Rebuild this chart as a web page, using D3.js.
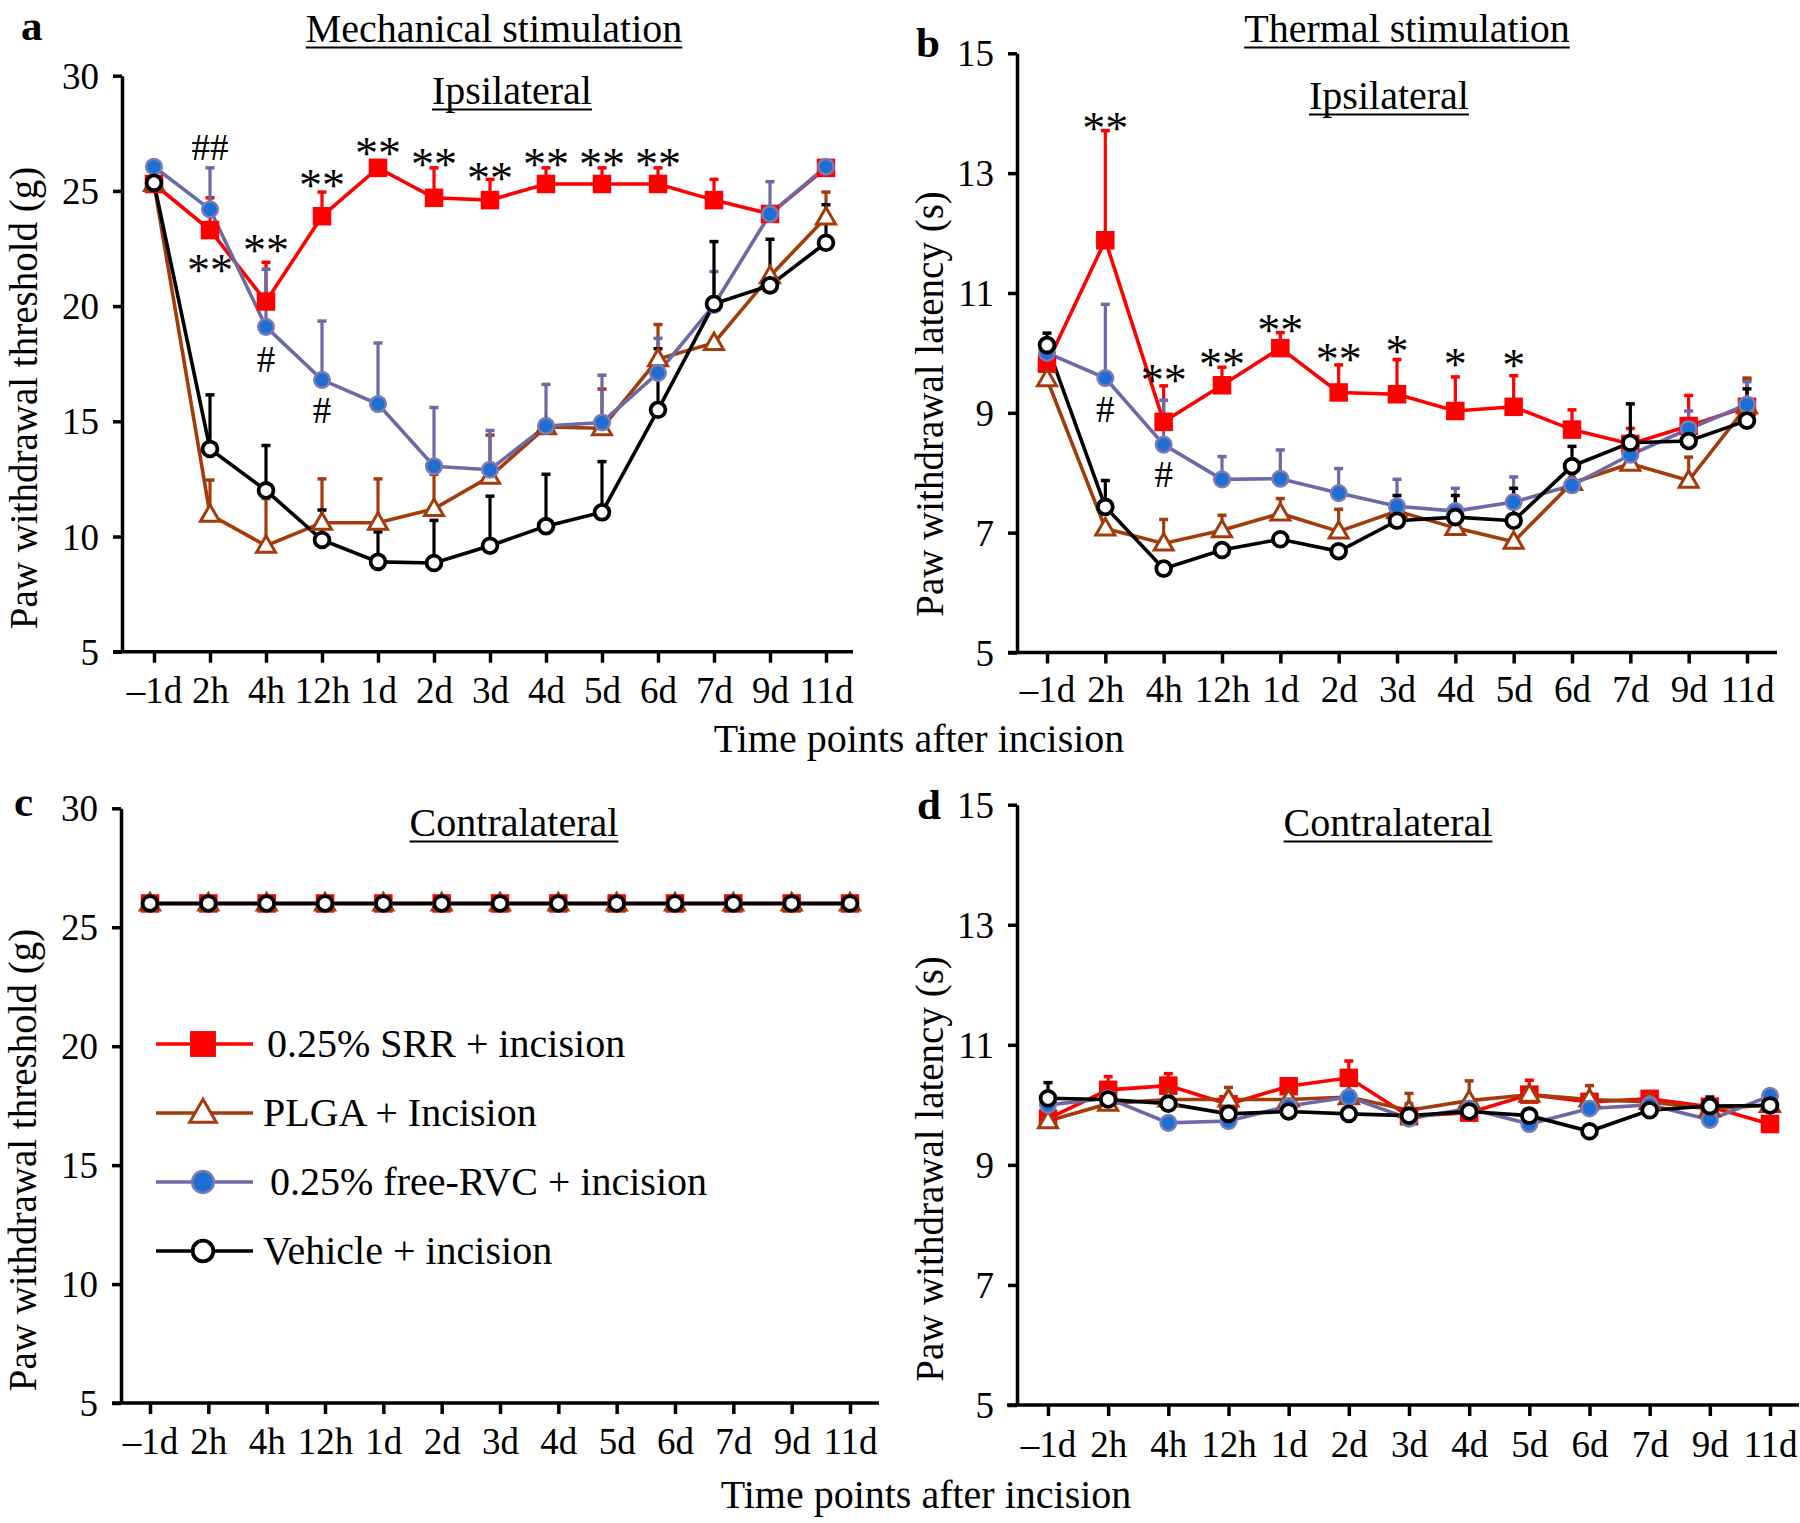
<!DOCTYPE html>
<html><head><meta charset="utf-8">
<script src="https://cdn.jsdelivr.net/npm/d3@7"></script>
<style>
body{margin:0;background:#fff}
</style>
</head><body>
<svg id="chart" width="1800" height="1523" xmlns="http://www.w3.org/2000/svg"></svg>
<script>
// ---------------- DATA ----------------
const timepoints = ["–1d","2h","4h","12h","1d","2d","3d","4d","5d","6d","7d","9d","11d"];
const mechTicks = [5,10,15,20,25,30];
const thermTicks = [5,7,9,11,13,15];
const seriesNames = ["0.25% SRR + incision","PLGA + Incision","0.25% free-RVC + incision","Vehicle + incision"];

// (a) Mechanical, ipsilateral
const mechIpsiSRR     = [25.3, 23.3, 20.2, 23.9, 26.0, 24.7, 24.6, 25.3, 25.3, 25.3, 24.6, 24.0, 26.0];
const mechIpsiSRRErr  = [0, 1.4, 1.7, 1.05, 0, 1.3, 0.9, 0.7, 0.7, 0.7, 0.9, 0.3, 0];
const mechIpsiPLGA    = [25.3, 10.95, 9.6, 10.6, 10.6, 11.2, 12.6, 14.75, 14.7, 17.7, 18.4, 21.3, 23.85];
const mechIpsiPLGAErr = [0, 1.5, 2.05, 1.9, 1.9, 1.5, 1.8, 0, 1.7, 1.5, 0, 0, 1.1];
const mechIpsiRVC     = [26.05, 24.2, 19.1, 16.8, 15.75, 13.05, 12.9, 14.8, 14.95, 17.1, 20.05, 24.0, 26.05];
const mechIpsiRVCErr  = [0, 1.8, 2.5, 2.55, 2.65, 2.55, 1.7, 1.8, 2.05, 1.5, 1.45, 1.4, 0];
const mechIpsiVeh     = [25.35, 13.8, 12.0, 9.85, 8.9, 8.85, 9.6, 10.45, 11.05, 15.5, 20.1, 20.9, 22.75];
const mechIpsiVehErr  = [0, 2.35, 1.95, 1.3, 1.3, 1.85, 2.15, 2.25, 2.2, 2.65, 2.7, 2.0, 1.65];

// (b) Thermal, ipsilateral
const thermIpsiSRR     = [9.82, 11.88, 8.85, 9.46, 10.08, 9.34, 9.31, 9.03, 9.1, 8.72, 8.48, 8.78, 9.1];
const thermIpsiSRRErr  = [0, 1.83, 0.6, 0.3, 0.26, 0.46, 0.58, 0.57, 0.52, 0.33, 0.26, 0.51, 0.45];
const thermIpsiPLGA    = [9.56, 7.07, 6.82, 7.04, 7.32, 7.02, 7.36, 7.08, 6.85, 7.83, 8.15, 7.87, 9.11];
const thermIpsiPLGAErr = [0, 0, 0.4, 0.25, 0.25, 0.37, 0, 0, 0, 0, 0, 0.39, 0.47];
const thermIpsiRVC     = [10.0, 9.58, 8.47, 7.89, 7.9, 7.66, 7.44, 7.36, 7.51, 7.79, 8.3, 8.73, 9.14];
const thermIpsiRVCErr  = [0, 1.23, 0.74, 0.38, 0.48, 0.41, 0.45, 0.38, 0.42, 0, 0, 0.3, 0.38];
const thermIpsiVeh     = [10.13, 7.43, 6.4, 6.71, 6.89, 6.69, 7.2, 7.26, 7.2, 8.11, 8.5, 8.53, 8.87];
const thermIpsiVehErr  = [0.2, 0.44, 0, 0, 0, 0, 0.42, 0.36, 0.54, 0.33, 0.65, 0, 0.53];

// (c) Mechanical, contralateral
const mechContraSRR  = [26,26,26,26,26,26,26,26,26,26,26,26,26];
const mechContraPLGA = [26,26,26,26,26,26,26,26,26,26,26,26,26];
const mechContraRVC  = [26,26,26,26,26,26,26,26,26,26,26,26,26];
const mechContraVeh  = [26,26,26,26,26,26,26,26,26,26,26,26,26];
const mechContraErr  = [0,0,0,0,0,0,0,0,0,0,0,0,0];

// (d) Thermal, contralateral
const thermContraSRR     = [9.77, 10.25, 10.32, 10.01, 10.31, 10.45, 9.81, 9.87, 10.17, 10.05, 10.1, 9.97, 9.68];
const thermContraSRRErr  = [0, 0.22, 0.2, 0.15, 0.12, 0.28, 0.1, 0, 0.24, 0.12, 0.1, 0.1, 0];
const thermContraPLGA    = [9.73, 10.02, 10.09, 10.09, 10.09, 10.13, 9.91, 10.07, 10.17, 10.09, 10.05, 9.93, 10.0];
const thermContraPLGAErr = [0, 0, 0, 0.2, 0, 0, 0.28, 0.33, 0.1, 0.23, 0.1, 0.17, 0];
const thermContraRVC     = [10.0, 10.11, 9.7, 9.73, 9.98, 10.13, 9.77, 9.94, 9.68, 9.94, 10.0, 9.75, 10.15];
const thermContraRVCErr  = [0, 0, 0, 0, 0, 0, 0.25, 0, 0, 0, 0, 0, 0.1];
const thermContraVeh     = [10.11, 10.09, 10.02, 9.85, 9.89, 9.85, 9.82, 9.89, 9.82, 9.56, 9.91, 9.98, 9.99];
const thermContraVehErr  = [0.26, 0, 0, 0, 0, 0, 0, 0, 0, 0, 0, 0.15, 0.2];

// significance marks: [time index, value, label]
const mechIpsiMarks = [[1,26.9,"##"],[1,21.9,"**"],[2,22.8,"**"],[2,17.7,"#"],[3,25.6,"**"],[3,15.5,"#"],
  [4,27.0,"**"],[5,26.5,"**"],[6,25.9,"**"],[7,26.5,"**"],[8,26.5,"**"],[9,26.5,"**"]];
const thermIpsiMarks = [[1,13.89,"**"],[1,9.07,"#"],[2,9.68,"**"],[2,7.97,"#"],[3,9.94,"**"],[4,10.52,"**"],
  [5,10.03,"**"],[6,10.17,"*"],[7,9.94,"*"],[8,9.93,"*"]];

// ---------------- STYLE ----------------
const FONT = "'Liberation Serif','Times New Roman',Times,serif";
const styles = [
  {line:"#ff0000", marker:"square",   fill:"#ff0000", stroke:"#ff0000", sw:0},
  {line:"#a33b0b", marker:"triangle", fill:"#ffffff", stroke:"#a33b0b", sw:3},
  {line:"#6b6aa6", marker:"dot",      fill:"#1f6fd2", stroke:"#7b7bb5", sw:2.5},
  {line:"#000000", marker:"circle",   fill:"#ffffff", stroke:"#000000", sw:3.8}
];

const svg = d3.select("#chart");

function drawMarker(g, st, cx, cy, big) {
  const k = big ? 1.4 : 1;
  if (st.marker === "square") {
    const s = 18.5 * k;
    g.append("rect").attr("x", cx - s/2).attr("y", cy - s/2).attr("width", s).attr("height", s)
      .attr("fill", st.fill);
  } else if (st.marker === "triangle") {
    const w = 19 * k, h = 16.5 * k;
    g.append("path").attr("d", `M${cx},${cy - h*0.6}L${cx + w/2},${cy + h*0.4}L${cx - w/2},${cy + h*0.4}Z`)
      .attr("fill", st.fill).attr("stroke", st.stroke).attr("stroke-width", st.sw).attr("stroke-linejoin","miter");
  } else if (st.marker === "dot") {
    g.append("circle").attr("cx", cx).attr("cy", cy).attr("r", 7.8 * k)
      .attr("fill", st.fill).attr("stroke", st.stroke).attr("stroke-width", st.sw);
  } else {
    g.append("circle").attr("cx", cx).attr("cy", cy).attr("r", 7.4 * k)
      .attr("fill", st.fill).attr("stroke", st.stroke).attr("stroke-width", st.sw);
  }
}

function underlinedText(x, y, txt, size) {
  const t = svg.append("text").attr("x", x).attr("y", y).attr("text-anchor","middle")
    .attr("font-family", FONT).attr("font-size", size).attr("fill","#000").text(txt);
  const bb = t.node().getBBox();
  svg.append("line").attr("x1", bb.x).attr("x2", bb.x + bb.width).attr("y1", y + 5.5).attr("y2", y + 5.5)
    .attr("stroke","#000").attr("stroke-width", 2);
}

function drawPanel(p) {
  const g = svg.append("g");
  const x = d3.scalePoint().domain(timepoints).range(p.xr);
  const y = d3.scaleLinear().domain(p.yd).range(p.yr);

  // y axis
  const ya = g.append("g").attr("transform", `translate(${p.axX},0)`)
    .call(d3.axisLeft(y).tickValues(p.ticks).tickSize(9).tickSizeOuter(0).tickPadding(14).tickFormat(d3.format("d")));
  ya.attr("font-family", FONT).attr("font-size", 37);
  ya.select(".domain").attr("stroke-width", 3.5);
  ya.selectAll(".tick line").attr("stroke-width", 3.5);
  ya.selectAll(".tick text").attr("fill","#000").attr("dy","0.34em");

  // x axis
  const xa = g.append("g").attr("transform", `translate(0,${p.yr[0]})`)
    .call(d3.axisBottom(x).tickSize(11).tickSizeOuter(0).tickPadding(p.xpad));
  xa.attr("font-family", FONT).attr("font-size", 37);
  xa.select(".domain").remove();
  xa.selectAll(".tick line").attr("stroke-width", 3.5);
  xa.selectAll(".tick text").attr("fill","#000");
  g.append("line").attr("x1", p.xext[0]).attr("x2", p.xext[1]).attr("y1", p.yr[0]).attr("y2", p.yr[0])
    .attr("stroke","#000").attr("stroke-width", 3.5);

  // series
  const line = d3.line().x((d,i) => x(timepoints[i])).y(d => y(d));
  p.series.forEach((s, si) => {
    const st = styles[si];
    const sg = g.append("g");
    s.err.forEach((e, i) => {
      if (e > 0) {
        const cx = x(timepoints[i]);
        sg.append("line").attr("x1", cx).attr("x2", cx).attr("y1", y(s.vals[i])).attr("y2", y(s.vals[i] + e))
          .attr("stroke", st.line).attr("stroke-width", 3.2);
        sg.append("line").attr("x1", cx - 4.5).attr("x2", cx + 4.5).attr("y1", y(s.vals[i] + e)).attr("y2", y(s.vals[i] + e))
          .attr("stroke", st.line).attr("stroke-width", 3.5);
      }
    });
    sg.append("path").attr("d", line(s.vals)).attr("fill","none").attr("stroke", st.line).attr("stroke-width", 3.6);
  });
  p.series.forEach((s, si) => {
    const st = styles[si];
    const mg = g.append("g");
    s.vals.forEach((v, i) => drawMarker(mg, st, x(timepoints[i]), y(v), false));
  });

  // significance marks
  (p.marks || []).forEach(m => {
    const isStar = m[2].indexOf("*") >= 0;
    g.append("text").attr("x", x(timepoints[m[0]])).attr("y", y(m[1]))
      .attr("dy", isStar ? "0.52em" : "0.35em").attr("text-anchor","middle")
      .attr("font-family", FONT).attr("font-size", isStar ? 46 : 37).attr("fill","#000").text(m[2]);
  });

  // y-axis title
  svg.append("text").attr("transform", `translate(${p.ytPos[0]},${p.ytPos[1]}) rotate(-90)`)
    .attr("text-anchor","middle").attr("font-family", FONT).attr("font-size", 39).attr("fill","#000").text(p.ytitle);

  // panel letter
  svg.append("text").attr("x", p.letterPos[0]).attr("y", p.letterPos[1]).attr("font-family", FONT)
    .attr("font-size", 43).attr("font-weight","bold").attr("fill","#000").text(p.letter);

  return {x, y};
}

// Panel a
drawPanel({
  xr:[154, 826], yd:[5,30], yr:[651.7, 75.7], axX:122, xext:[113, 853], ticks:mechTicks, xpad:14,
  series:[{vals:mechIpsiSRR, err:mechIpsiSRRErr},{vals:mechIpsiPLGA, err:mechIpsiPLGAErr},
          {vals:mechIpsiRVC, err:mechIpsiRVCErr},{vals:mechIpsiVeh, err:mechIpsiVehErr}],
  marks: mechIpsiMarks, ytitle:"Paw withdrawal threshold (g)", ytPos:[37, 398], letter:"a", letterPos:[21, 40]
});
// Panel b
drawPanel({
  xr:[1047, 1747], yd:[5,15], yr:[652.5, 53.3], axX:1017, xext:[1008, 1777], ticks:thermTicks, xpad:12,
  series:[{vals:thermIpsiSRR, err:thermIpsiSRRErr},{vals:thermIpsiPLGA, err:thermIpsiPLGAErr},
          {vals:thermIpsiRVC, err:thermIpsiRVCErr},{vals:thermIpsiVeh, err:thermIpsiVehErr}],
  marks: thermIpsiMarks, ytitle:"Paw withdrawal latency (s)", ytPos:[943, 404], letter:"b", letterPos:[916, 57]
});
// Panel c
drawPanel({
  xr:[150, 850], yd:[5,30], yr:[1403, 808.3], axX:121, xext:[112, 879], ticks:mechTicks, xpad:14,
  series:[{vals:mechContraSRR, err:mechContraErr},{vals:mechContraPLGA, err:mechContraErr},
          {vals:mechContraRVC, err:mechContraErr},{vals:mechContraVeh, err:mechContraErr}],
  marks: [], ytitle:"Paw withdrawal threshold (g)", ytPos:[36, 1160], letter:"c", letterPos:[14, 816]
});
// Panel d
drawPanel({
  xr:[1048, 1770], yd:[5,15], yr:[1405, 804.7], axX:1017, xext:[1007, 1799], ticks:thermTicks, xpad:15,
  series:[{vals:thermContraSRR, err:thermContraSRRErr},{vals:thermContraPLGA, err:thermContraPLGAErr},
          {vals:thermContraRVC, err:thermContraRVCErr},{vals:thermContraVeh, err:thermContraVehErr}],
  marks: [], ytitle:"Paw withdrawal latency (s)", ytPos:[943, 1169], letter:"d", letterPos:[917, 819]
});

// titles
underlinedText(494, 42, "Mechanical stimulation", 40);
underlinedText(512, 104, "Ipsilateral", 40);
underlinedText(1407, 42, "Thermal stimulation", 40);
underlinedText(1389, 109, "Ipsilateral", 40);
underlinedText(514, 836, "Contralateral", 40);
underlinedText(1388, 836, "Contralateral", 40);

// x-axis titles
svg.append("text").attr("x", 919).attr("y", 752).attr("text-anchor","middle").attr("font-family", FONT)
  .attr("font-size", 40).attr("fill","#000").text("Time points after incision");
svg.append("text").attr("x", 926).attr("y", 1508).attr("text-anchor","middle").attr("font-family", FONT)
  .attr("font-size", 40).attr("fill","#000").text("Time points after incision");

// legend (panel c)
const legendRows = [1044, 1113, 1182, 1251];
const legendTextX = [267, 263, 270, 263];
seriesNames.forEach((name, i) => {
  const lg = svg.append("g");
  const st = styles[i];
  lg.append("line").attr("x1", 156).attr("x2", 253).attr("y1", legendRows[i]).attr("y2", legendRows[i])
    .attr("stroke", st.line).attr("stroke-width", 3.5);
  drawMarker(lg, st, 203, legendRows[i], true);
  lg.append("text").attr("x", legendTextX[i]).attr("y", legendRows[i] + 13).attr("font-family", FONT)
    .attr("font-size", 40).attr("fill","#000").text(name);
});
</script>
</body></html>
